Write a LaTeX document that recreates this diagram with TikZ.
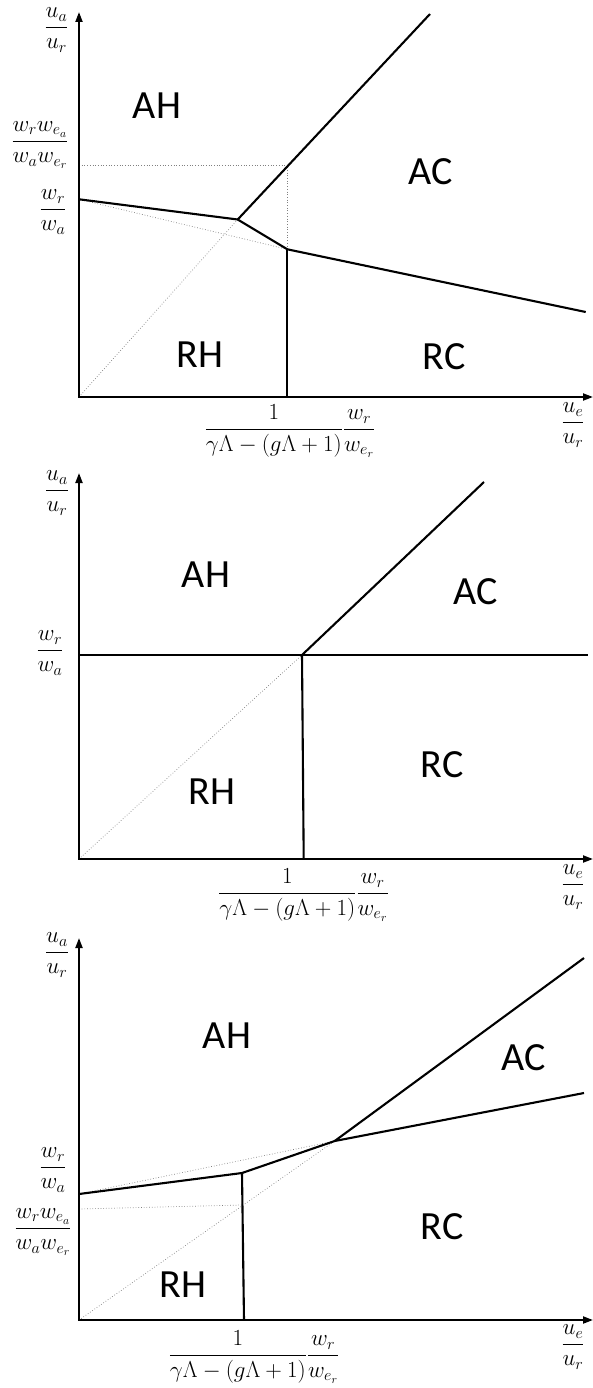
\RequirePackage{fix-cm}
\documentclass[tikz,border=0pt]{standalone}
\usepackage{amsmath}
\usepackage{fontspec}
\setmainfont{Carlito}
\usetikzlibrary{arrows.meta}
\begin{document}
\begin{tikzpicture}[x=1pt,y=-1pt,
  axis/.style={line width=2pt,{Triangle[length=10pt,width=7pt]}-{Triangle[length=10pt,width=7pt]}},
  bd/.style={line width=2.1pt,line join=round},
  aux/.style={black!50,line width=0.7pt,dotted},
  region/.style={font=\fontsize{40}{48}\selectfont,inner sep=0pt},
  lab/.style={font=\fontsize{23}{27}\selectfont,inner sep=0pt}]
\useasboundingbox (0,0) rectangle (593,1388);
% ---------- panel 1 ----------
\coordinate (O1) at (79,397);
\coordinate (Y1) at (79,12);
\coordinate (X1) at (593,397);
\coordinate (L1) at (79,199.3);
\coordinate (A1) at (237.7,219.5);
\coordinate (B1) at (287.3,249.3);
\coordinate (E1) at (585.7,312);
\coordinate (T1) at (430,14);
\coordinate (P1) at (287.3,165);
\coordinate (H1) at (79,165);
\coordinate (F1) at (287.3,397);
\draw[aux] (O1) -- (A1);
\draw[aux] (H1) -- (P1) -- (B1);
\draw[aux] (L1) -- (B1);
\draw[bd] (L1) -- (A1) -- (B1) -- (E1);
\draw[bd] (A1) -- (T1);
\draw[bd] (B1) -- (F1);
\draw[axis] (Y1) -- (O1) -- (X1);
\node[lab] (ya1) at (56.5,30) {$\dfrac{u_a}{u_r}$};
\node[lab] (we1) at (40,145) {$\dfrac{w_r w_{e_a}}{w_a w_{e_r}}$};
\node[lab] (wr1) at (53,212) {$\dfrac{w_r}{w_a}$};
\node[lab] (xl1) at (290,431) {$\dfrac{1}{\gamma\Lambda-(g\Lambda+1)}\dfrac{w_r}{w_{e_r}}$};
\node[lab] (xa1) at (573,425) {$\dfrac{u_e}{u_r}$};
\node[region] (AH1) at (157,106) {AH};
\node[region] (AC1) at (431,172) {AC};
\node[region] (RH1) at (200,355) {RH};
\node[region] (RC1) at (444,357) {RC};
% ---------- panel 2 ----------
\coordinate (O2) at (79,859);
\coordinate (Y2) at (79,473);
\coordinate (X2) at (593,859);
\coordinate (K2) at (302,655);
\coordinate (L2) at (79,655);
\coordinate (R2) at (588,655);
\coordinate (T2) at (484,482);
\coordinate (F2) at (303.7,859);
\draw[aux] (O2) -- (K2);
\draw[bd] (L2) -- (K2) -- (R2);
\draw[bd] (K2) -- (T2);
\draw[bd] (K2) -- (F2);
\draw[axis] (Y2) -- (O2) -- (X2);
\node[lab] (ya2) at (57,493) {$\dfrac{u_a}{u_r}$};
\node[lab] (wr2) at (50,653) {$\dfrac{w_r}{w_a}$};
\node[lab] (xl2) at (303.5,895) {$\dfrac{1}{\gamma\Lambda-(g\Lambda+1)}\dfrac{w_r}{w_{e_r}}$};
\node[lab] (xa2) at (573,887) {$\dfrac{u_e}{u_r}$};
\node[region] (AH2) at (206,575) {AH};
\node[region] (AC2) at (476,592) {AC};
\node[region] (RH2) at (212,792) {RH};
\node[region] (RC2) at (442,765) {RC};
% ---------- panel 3 ----------
\coordinate (O3) at (79,1320);
\coordinate (Y3) at (79,938);
\coordinate (X3) at (593,1320);
\coordinate (L3) at (79,1194);
\coordinate (M3) at (242,1173);
\coordinate (K3) at (334.7,1141);
\coordinate (E3) at (584,1093);
\coordinate (T3) at (584,958);
\coordinate (F3) at (244,1320);
\coordinate (D3) at (242,1205);
\coordinate (H3) at (79,1209);
\draw[aux] (L3) -- (K3);
\draw[aux] (O3) -- (K3);
\draw[aux] (H3) -- (D3);
\draw[bd] (L3) -- (M3) -- (K3) -- (E3);
\draw[bd] (K3) -- (T3);
\draw[bd] (M3) -- (F3);
\draw[axis] (Y3) -- (O3) -- (X3);
\node[lab] (ya3) at (57,955) {$\dfrac{u_a}{u_r}$};
\node[lab] (wr3) at (53,1170) {$\dfrac{w_r}{w_a}$};
\node[lab] (we3) at (43,1232) {$\dfrac{w_r w_{e_a}}{w_a w_{e_r}}$};
\node[lab] (xl3) at (254,1357) {$\dfrac{1}{\gamma\Lambda-(g\Lambda+1)}\dfrac{w_r}{w_{e_r}}$};
\node[lab] (xa3) at (573,1347) {$\dfrac{u_e}{u_r}$};
\node[region] (AH3) at (227,1036) {AH};
\node[region] (AC3) at (524,1058) {AC};
\node[region] (RH3) at (183,1285) {RH};
\node[region] (RC3) at (442,1227) {RC};
\end{tikzpicture}
\end{document}
